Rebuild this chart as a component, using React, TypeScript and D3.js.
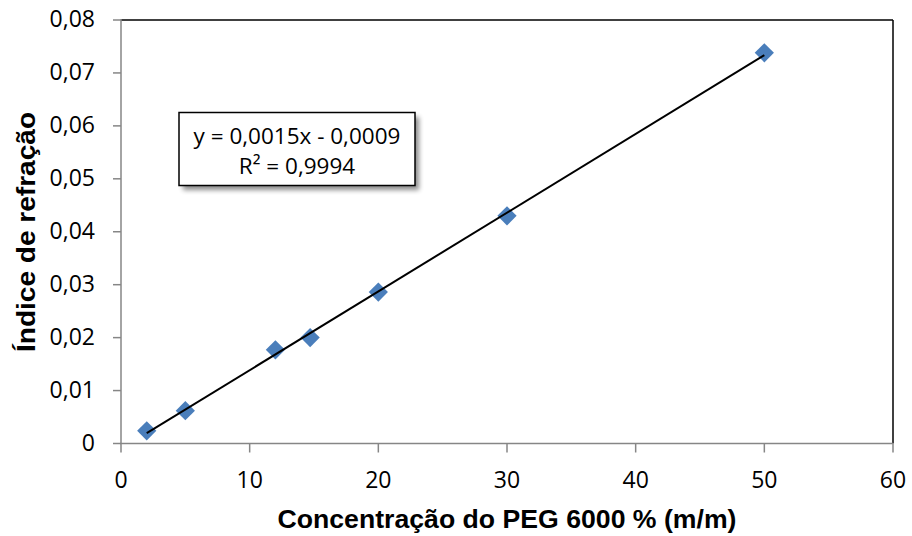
import React from "react";
import * as d3 from "d3";

const xValues = [2, 5, 12, 14.7, 20, 30, 50];
const yValues = [0.0024, 0.0062, 0.0177, 0.02, 0.0286, 0.043, 0.0738];
const xTicks = [0, 10, 20, 30, 40, 50, 60];
const yTicks = [0, 0.01, 0.02, 0.03, 0.04, 0.05, 0.06, 0.07, 0.08];
const equationLines = ["y = 0,0015x - 0,0009", "R² = 0,9994"];
const xTitle = "Concentração do PEG 6000 % (m/m)";
const yTitle = "Índice de refração";

export default function App() {
  const W = 912, H = 536;
  const L = 121, R = 893, T = 20, B = 443.5;
  const x = d3.scaleLinear().domain([0, 60]).range([L, R]);
  const y = d3.scaleLinear().domain([0, 0.08]).range([B, T]);

  const n = xValues.length;
  const mx = d3.mean(xValues)!, my = d3.mean(yValues)!;
  let sxy = 0, sxx = 0;
  for (let i = 0; i < n; i++) { sxy += (xValues[i] - mx) * (yValues[i] - my); sxx += (xValues[i] - mx) ** 2; }
  const slope = sxy / sxx, icpt = my - slope * mx;
  const x0 = d3.min(xValues)!, x1 = d3.max(xValues)!;
  const line = d3.line<number>().x(v => x(v)).y(v => y(slope * v + icpt));

  const fmt = (v: number) => v === 0 ? "0" : v.toFixed(2).replace(".", ",");
  const sym = d3.symbol().type(d3.symbolSquare).size(185);
  const boldFont = "Arial, 'Liberation Sans', sans-serif";
  const calibri = "'Open Sans', sans-serif";

  return (
    <svg width={W} height={H} style={{ position: "absolute", left: 0, top: 0, background: "#fff" }}>
      <defs>
        <filter id="sh" x="-10%" y="-10%" width="130%" height="150%">
          <feGaussianBlur stdDeviation="2.5" />
        </filter>
      </defs>
      <line x1={L} x2={R} y1={T} y2={T} stroke="#000" strokeWidth={1.5} />
      <line x1={R} x2={R} y1={T} y2={B} stroke="#000" strokeWidth={1.5} />
      <line x1={L} x2={L} y1={T - 1} y2={B} stroke="#868686" strokeWidth={1.5} />
      <line x1={L - 1} x2={R} y1={B} y2={B} stroke="#868686" strokeWidth={1.5} />
      {yTicks.map(t => (
        <g key={"y" + t}>
          <line x1={L - 8} x2={L} y1={y(t)} y2={y(t)} stroke="#868686" strokeWidth={1.5} />
          <text x={95} y={y(t) - 1} dy="0.35em" textAnchor="end" fontFamily={calibri} fontSize={23} fill="#000">{fmt(t)}</text>
        </g>
      ))}
      {xTicks.map(t => (
        <g key={"x" + t}>
          <line x1={x(t)} x2={x(t)} y1={B} y2={B + 9} stroke="#868686" strokeWidth={1.5} />
          <text x={x(t)} y={480} dy="0.35em" textAnchor="middle" fontFamily={calibri} fontSize={23} fill="#000">{t}</text>
        </g>
      ))}
      {xValues.map((v, i) => (
        <path key={"p" + i} d={sym()!} transform={`translate(${x(v)},${y(yValues[i])}) rotate(45)`} fill="#4a7ebb" />
      ))}
      <path d={line([x0, x1])!} stroke="#000" strokeWidth={2} fill="none" />
      <rect x={183} y={117} width={236} height={73} fill="#000" opacity={0.45} filter="url(#sh)" />
      <rect x={179} y={112.5} width={236} height={73} fill="#fff" stroke="#000" strokeWidth={1.5} />
      {equationLines.map((s, i) => (
        <text key={s} x={297} y={136 + i * 30} dy="0.35em" textAnchor="middle" fontFamily={calibri} fontSize={22.5} fill="#000">{s}</text>
      ))}
      <text x={507} y={519} dy="0.35em" textAnchor="middle" fontFamily={boldFont} fontWeight="bold" fontSize={26} textLength={459} lengthAdjust="spacingAndGlyphs" fill="#000">{xTitle}</text>
      <text transform="translate(26,232) rotate(-90)" dy="0.35em" textAnchor="middle" fontFamily={boldFont} fontWeight="bold" fontSize={26} textLength={240} lengthAdjust="spacingAndGlyphs" fill="#000">{yTitle}</text>
    </svg>
  );
}
